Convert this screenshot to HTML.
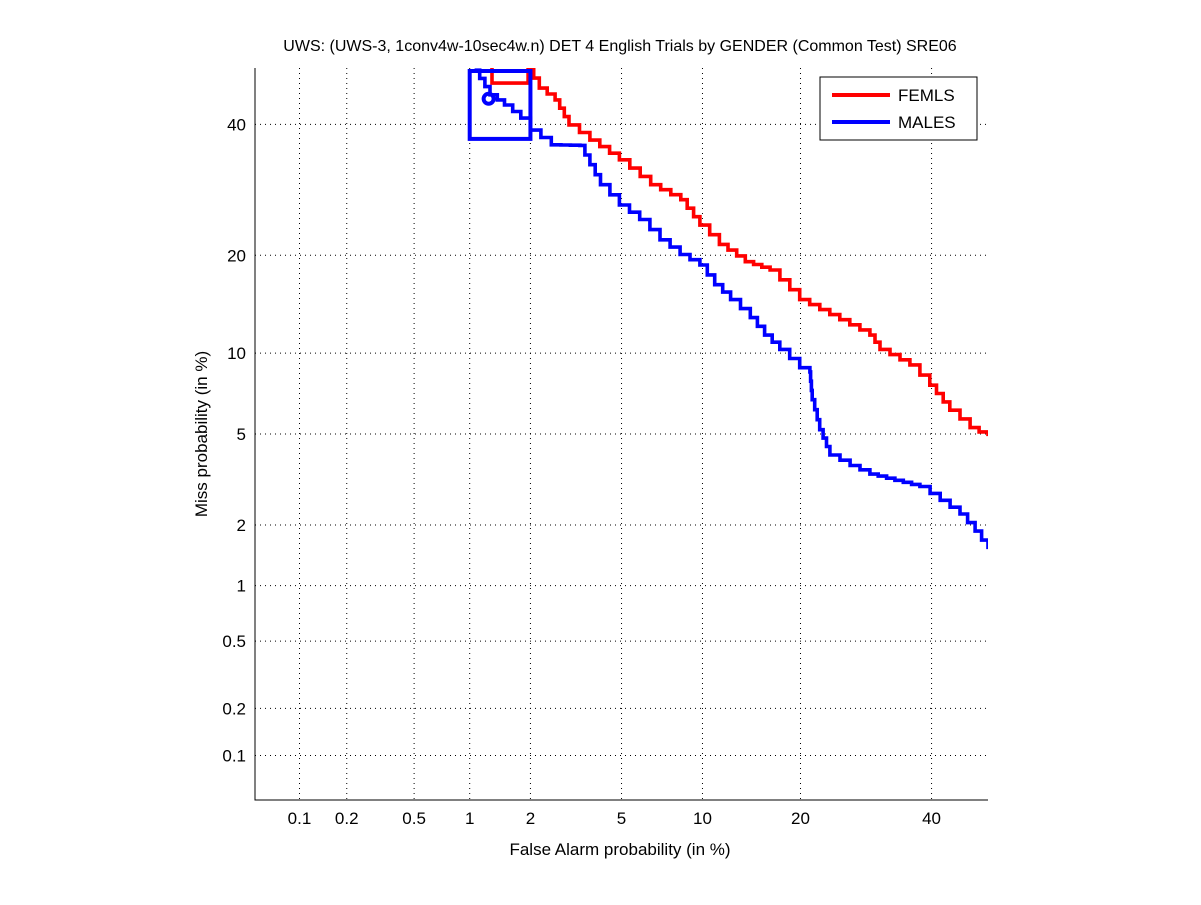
<!DOCTYPE html>
<html><head><meta charset="utf-8"><style>
body{margin:0;background:#fff;}
svg text{font-family:"Liberation Sans",sans-serif;fill:#000;}
</style></head><body>
<svg width="1201" height="900" xmlns="http://www.w3.org/2000/svg">
<defs><clipPath id="pc"><rect x="255" y="68" width="733" height="732"/></clipPath></defs>
<rect x="0" y="0" width="1201" height="900" fill="#fff"/>
<g id="grid"></g>
<g id="axes"></g>
<g id="series" clip-path="url(#pc)"></g>
<text x="620" y="51" font-size="16" text-anchor="middle">UWS: (UWS-3, 1conv4w-10sec4w.n) DET 4 English Trials by GENDER (Common Test) SRE06</text>
<text x="620" y="855" font-size="17" text-anchor="middle">False Alarm probability (in %)</text>
<text x="207" y="434" font-size="17" text-anchor="middle" transform="rotate(-90 207 434)">Miss probability (in %)</text>
<g>
<rect x="820" y="77" width="157" height="63" fill="#fff" stroke="#000" stroke-width="1"/>
<line x1="832" y1="95" x2="890" y2="95" stroke="#f00" stroke-width="4"/>
<text x="898" y="101" font-size="17">FEMLS</text>
<line x1="832" y1="122" x2="890" y2="122" stroke="#00f" stroke-width="4"/>
<text x="898" y="128" font-size="17">MALES</text>
</g>
</svg>
<script>
const xTicks=[0.1,0.2,0.5,1,2,5,10,20,40];
const yTicks=[0.1,0.2,0.5,1,2,5,10,20,40];
const femFA=[1.3,1.3,1.95,1.95,2.2,2.6,3.0,3.7,4.9,6.5,8.4,9.8,11.4,13.8,16.4,19.9,25.3,29.8,31.4,36.3,39.7,43.2,46.8,50];
const femMiss=[50,47.3,47.3,50,46.4,44.3,39.9,37.3,34,30,27.7,24,21.4,19.2,18.2,14.9,12.9,11.5,10.3,9.1,7.7,6.2,5.3,4.9];
const malFA=[1.06,1.27,1.5,1.8,2.0,2.5,3.35,3.7,4.1,4.9,5.9,7.05,8.35,9.8,11,12.4,14.3,15.8,17.5,19.9,21.2,21.5,22.5,23.9,26.8,29.8,38,41.5,45,47.7,50];
const malMiss=[49.6,45.2,43.4,41.1,39,36.5,36.4,33.2,30,26.9,24.8,22,20.1,18.8,16.5,14.9,13.1,11.5,10.3,8.9,8.6,6.8,5.2,4.1,3.7,3.4,3.0,2.6,2.25,1.87,1.53];
function ninv(p){
 const a=[-39.69683028665376,220.9460984245205,-275.9285104469687,138.3577518672690,-30.66479806614716,2.506628277459239];
 const b=[-54.47609879822406,161.5858368580409,-155.6989798598866,66.80131188771972,-13.28068155288572];
 const c=[-0.007784894002430293,-0.3223964580411365,-2.400758277161838,-2.549732539343734,4.374664141464968,2.938163982698783];
 const d=[0.007784695709041462,0.3224671290700398,2.445134137142996,3.754408661907416];
 let q,r;
 if(p<0.02425){q=Math.sqrt(-2*Math.log(p));return (((((c[0]*q+c[1])*q+c[2])*q+c[3])*q+c[4])*q+c[5])/((((d[0]*q+d[1])*q+d[2])*q+d[3])*q+1);}
 if(p>1-0.02425){q=Math.sqrt(-2*Math.log(1-p));return -(((((c[0]*q+c[1])*q+c[2])*q+c[3])*q+c[4])*q+c[5])/((((d[0]*q+d[1])*q+d[2])*q+d[3])*q+1);}
 q=p-0.5;r=q*q;return (((((a[0]*r+a[1])*r+a[2])*r+a[3])*r+a[4])*r+a[5])*q/(((((b[0]*r+b[1])*r+b[2])*r+b[3])*r+b[4])*r+1);
}
const L=255,R=988,T=68,B=800,PMIN=-3.29,PMAX=0;
function xs(v){return L+(ninv(v/100)-PMIN)/(PMAX-PMIN)*(R-L);}
function ys(v){return B-(ninv(v/100)-PMIN)/(PMAX-PMIN)*(B-T);}
const NS="http://www.w3.org/2000/svg";
function mk(tag,attrs,parent){const e=document.createElementNS(NS,tag);for(const k in attrs)e.setAttribute(k,attrs[k]);document.getElementById(parent).appendChild(e);return e;}
xTicks.forEach(v=>{const x=xs(v);
 const g=mk('line',{x1:x,y1:T,x2:x,y2:B,stroke:'#000','stroke-width':1,'stroke-dasharray':'1,4'},'grid');
 
 
 const t=mk('text',{x:x,y:824,'font-size':17,'text-anchor':'middle'},'axes');t.textContent=v;
 
 
});
yTicks.forEach(v=>{const y=ys(v);
 const g=mk('line',{x1:L,y1:y,x2:R,y2:y,stroke:'#000','stroke-width':1,'stroke-dasharray':'1,4'},'grid');
 
 
 const t=mk('text',{x:246,y:y+6,'font-size':17,'text-anchor':'end'},'axes');t.textContent=v;
 
 
});
const ax=mk('path',{d:`M${L},${T}V${B}H${R}`,fill:'none',stroke:'#000','stroke-width':1},'axes');


function draw(fa,ms,col,name){
 let d='M'+xs(fa[0]).toFixed(1)+','+ys(ms[0]).toFixed(1);
 for(let i=1;i<fa.length;i++){
  const x0=xs(fa[i-1]),y0=ys(ms[i-1]),x1=xs(fa[i]),y1=ys(ms[i]);
  const n=Math.max(1,Math.round(Math.max(Math.abs(x1-x0),Math.abs(y1-y0))/9));
  for(let k=1;k<=n;k++){
   d+='H'+(x0+(x1-x0)*k/n).toFixed(1)+'V'+(y0+(y1-y0)*k/n).toFixed(1);
  }
 }
 const p=mk('path',{d:d,fill:'none',stroke:col,'stroke-width':3.6,'stroke-linejoin':'miter'},'series');
 
 
}
draw(femFA,femMiss,'#f00','femls-curve');
draw(malFA,malMiss,'#00f','males-curve');
const bx=mk('rect',{x:xs(1),y:ys(50)+3,width:xs(2)-xs(1),height:ys(37.5)-ys(50)-3,fill:'none',stroke:'#00f','stroke-width':4},'series');


const c=mk('circle',{cx:xs(1.25),cy:ys(44.5),r:5,fill:'none',stroke:'#00f','stroke-width':4},'series');


</script>
</body></html>
